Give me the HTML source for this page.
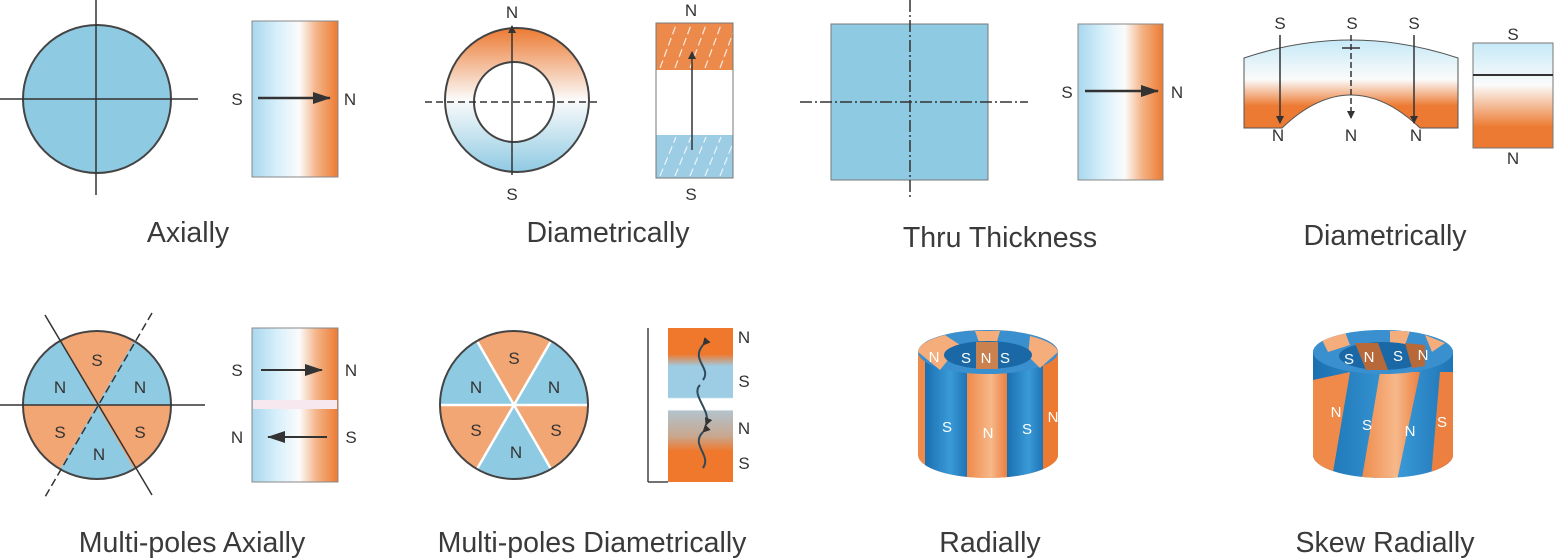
<!DOCTYPE html>
<html><head><meta charset="utf-8"><style>
html,body{margin:0;padding:0;background:#fff;}
svg{display:block;}
text{font-family:"Liberation Sans",sans-serif;fill:#333;}
.lb{font-size:28.5px;text-anchor:middle;fill:#3a3a3a;}
.p{font-size:17px;text-anchor:middle;}
.w{font-size:15px;text-anchor:middle;fill:#fff;}
</style></head><body>
<svg width="1554" height="559" viewBox="0 0 1554 559" xmlns="http://www.w3.org/2000/svg">
<defs>
<linearGradient id="hg" x1="0" x2="1" y1="0" y2="1" gradientTransform="rotate(0)">
<stop offset="0" stop-color="#a9d7ee"/><stop offset="0.3" stop-color="#d8f0fb"/><stop offset="0.55" stop-color="#fbfbfb"/><stop offset="0.75" stop-color="#f4b487"/><stop offset="1" stop-color="#ec7a32"/></linearGradient>
<linearGradient id="hg2" x1="0" x2="1" y1="0" y2="0">
<stop offset="0" stop-color="#a9d7ee"/><stop offset="0.3" stop-color="#d8f0fb"/><stop offset="0.55" stop-color="#fbfbfb"/><stop offset="0.75" stop-color="#f4b487"/><stop offset="1" stop-color="#ec7a32"/></linearGradient>
<linearGradient id="vg" x1="0" x2="0" y1="0" y2="1">
<stop offset="0" stop-color="#ec7a32"/><stop offset="0.5" stop-color="#fbfbfb"/><stop offset="1" stop-color="#8fcae3"/></linearGradient>
<linearGradient id="ag" x1="0" x2="0" y1="0" y2="1">
<stop offset="0" stop-color="#c6e9f7"/><stop offset="0.45" stop-color="#fbfbfb"/><stop offset="0.75" stop-color="#ec7a32"/><stop offset="1" stop-color="#ec7a32"/></linearGradient>
<linearGradient id="rg" x1="0" x2="0" y1="0" y2="1">
<stop offset="0" stop-color="#c6e9f7"/><stop offset="0.4" stop-color="#fbfbfb"/><stop offset="0.8" stop-color="#ec7a32"/><stop offset="1" stop-color="#ec7a32"/></linearGradient>
<linearGradient id="mg" x1="0" x2="0" y1="0" y2="1">
<stop offset="0" stop-color="#ef782d"/><stop offset="0.17" stop-color="#ef782d"/><stop offset="0.25" stop-color="#9ccde5"/><stop offset="0.45" stop-color="#9ccde5"/><stop offset="0.46" stop-color="#fff"/><stop offset="0.53" stop-color="#fff"/><stop offset="0.54" stop-color="#b3c3cc"/><stop offset="0.7" stop-color="#c8a890"/><stop offset="0.8" stop-color="#ef782d"/><stop offset="1" stop-color="#ef782d"/></linearGradient>
<marker id="ah" markerWidth="8" markerHeight="8" refX="7" refY="4" orient="auto" markerUnits="userSpaceOnUse" viewBox="0 0 8 8"><path d="M0,0 L8,4 L0,8 z" fill="#333"/></marker>
<marker id="ab" markerWidth="18" markerHeight="12" refX="17" refY="6" orient="auto" markerUnits="userSpaceOnUse"><path d="M0,0 L18,6 L0,12 z" fill="#333"/></marker>
<clipPath id="c1"><path d="M918,352 A70,22 0 0 1 1058,352 L1058,455 A70,23 0 0 1 918,455 Z"/></clipPath>
<clipPath id="c2"><path d="M1313,352 A70,22 0 0 1 1453,352 L1453,455 A70,23 0 0 1 1313,455 Z"/></clipPath>
<linearGradient id="bl" x1="0" x2="1"><stop offset="0" stop-color="#1a6fb0"/><stop offset="0.6" stop-color="#3a9ad8"/><stop offset="1" stop-color="#1f74b5"/></linearGradient>
<linearGradient id="or" x1="0" x2="1"><stop offset="0" stop-color="#ef8a4a"/><stop offset="0.6" stop-color="#f6b88a"/><stop offset="1" stop-color="#ec8040"/></linearGradient>
</defs>

<!-- Axially -->
<circle cx="97" cy="99" r="74" fill="#8fcae3" stroke="#444" stroke-width="2"/>
<line x1="96" y1="0" x2="96" y2="195" stroke="#333" stroke-width="1.5"/>
<line x1="0" y1="99" x2="198" y2="99" stroke="#333" stroke-width="1.5"/>
<rect x="252" y="21" width="86" height="156" fill="url(#hg2)" stroke="#888"/>
<line x1="258" y1="98" x2="330" y2="98" stroke="#333" stroke-width="2.5" marker-end="url(#ab)"/>
<text class="p" x="237" y="105">S</text><text class="p" x="350" y="105">N</text>
<text class="lb" x="188" y="242">Axially</text>

<!-- Diametrically ring -->
<circle cx="517" cy="100" r="72" fill="url(#vg)" stroke="#444" stroke-width="2"/>
<circle cx="514" cy="102" r="40" fill="#fff" stroke="#444" stroke-width="2"/>
<line x1="512" y1="175" x2="512" y2="26" stroke="#333" stroke-width="1.5" marker-end="url(#ah)"/>
<line x1="425" y1="102" x2="600" y2="102" stroke="#333" stroke-width="1.5" stroke-dasharray="7,4"/>
<text class="p" x="512" y="18">N</text><text class="p" x="512" y="200">S</text>
<rect x="656" y="23" width="77" height="47" fill="#ec8a4c"/>
<rect x="656" y="135" width="77" height="43" fill="#9ccde5"/>
<g stroke="#fff" stroke-width="1.2" stroke-dasharray="8,4" opacity="0.8">
<line x1="660" y1="68" x2="676" y2="25"/><line x1="675" y1="68" x2="691" y2="25"/><line x1="690" y1="68" x2="706" y2="25"/><line x1="705" y1="68" x2="721" y2="25"/><line x1="720" y1="68" x2="733" y2="33"/>
<line x1="660" y1="176" x2="676" y2="137"/><line x1="675" y1="176" x2="691" y2="137"/><line x1="690" y1="176" x2="706" y2="137"/><line x1="705" y1="176" x2="721" y2="137"/><line x1="720" y1="176" x2="733" y2="143"/></g>
<rect x="656" y="23" width="77" height="155" fill="none" stroke="#777"/>
<line x1="692" y1="150" x2="692" y2="52" stroke="#333" stroke-width="1.5" marker-end="url(#ah)"/>
<text class="p" x="691" y="16">N</text><text class="p" x="691" y="200">S</text>
<text class="lb" x="608" y="242">Diametrically</text>

<!-- Thru thickness -->
<rect x="831" y="24" width="157" height="156" fill="#8fcae3" stroke="#777"/>
<line x1="910" y1="0" x2="910" y2="200" stroke="#333" stroke-width="1.5" stroke-dasharray="12,3,2,3"/>
<line x1="800" y1="102" x2="1028" y2="102" stroke="#333" stroke-width="1.5" stroke-dasharray="12,3,2,3"/>
<rect x="1078" y="24" width="85" height="156" fill="url(#hg2)" stroke="#888"/>
<line x1="1085" y1="91" x2="1158" y2="91" stroke="#333" stroke-width="2.5" marker-end="url(#ab)"/>
<text class="p" x="1067" y="98">S</text><text class="p" x="1177" y="98">N</text>
<text class="lb" x="1000" y="247">Thru Thickness</text>

<!-- Diametrically arc -->
<path d="M1244,58 Q1351,22 1458,58 L1458,128 L1420,128 Q1351,62 1282,128 L1244,128 Z" fill="url(#ag)" stroke="#555"/>
<g stroke="#333" stroke-width="1.5"><line x1="1280" y1="35" x2="1280" y2="123" marker-end="url(#ah)"/><line x1="1351" y1="35" x2="1351" y2="118" stroke-dasharray="6,3" marker-end="url(#ah)"/><line x1="1414" y1="35" x2="1414" y2="123" marker-end="url(#ah)"/><line x1="1342" y1="48" x2="1360" y2="48"/></g>
<text class="p" x="1280" y="29">S</text><text class="p" x="1352" y="29">S</text><text class="p" x="1414" y="29">S</text>
<text class="p" x="1278" y="141">N</text><text class="p" x="1351" y="141">N</text><text class="p" x="1416" y="141">N</text>
<rect x="1473" y="43" width="80" height="105" fill="url(#rg)" stroke="#777"/>
<line x1="1473" y1="75" x2="1553" y2="75" stroke="#333" stroke-width="2"/>
<text class="p" x="1513" y="40">S</text><text class="p" x="1513" y="164">N</text>
<text class="lb" x="1385" y="245">Diametrically</text>

<!-- Multi-poles axially -->
<circle cx="97" cy="405" r="74" fill="#8fcae3"/>
<path d="M97,405 L60,341 A74,74 0 0 1 134,341 Z" fill="#f2a673"/>
<path d="M97,405 L171,405 A74,74 0 0 1 134,469 Z" fill="#f2a673"/>
<path d="M97,405 L60,469 A74,74 0 0 1 23,405 Z" fill="#f2a673"/>
<circle cx="97" cy="405" r="74" fill="none" stroke="#444" stroke-width="2"/>
<line x1="45" y1="315" x2="152" y2="495" stroke="#333" stroke-width="1.5"/>
<line x1="152" y1="313" x2="45" y2="497" stroke="#333" stroke-width="1.5" stroke-dasharray="8,4"/>
<line x1="0" y1="405" x2="205" y2="405" stroke="#333" stroke-width="1.5"/>
<text class="p" x="97" y="366">S</text><text class="p" x="60" y="393">N</text><text class="p" x="140" y="393">N</text><text class="p" x="60" y="438">S</text><text class="p" x="140" y="438">S</text><text class="p" x="99" y="460">N</text>
<rect x="252" y="328" width="86" height="154" fill="url(#hg2)" stroke="#888"/>
<rect x="253" y="400" width="84" height="9" fill="#f6e8ee"/>
<line x1="261" y1="370" x2="322" y2="370" stroke="#333" stroke-width="2" marker-end="url(#ab)"/>
<line x1="327" y1="437" x2="268" y2="437" stroke="#333" stroke-width="2" marker-end="url(#ab)"/>
<text class="p" x="237" y="376">S</text><text class="p" x="351" y="376">N</text>
<text class="p" x="237" y="443">N</text><text class="p" x="351" y="443">S</text>
<text class="lb" x="192" y="552">Multi-poles Axially</text>

<!-- Multi-poles diametrically -->
<circle cx="514" cy="405" r="74" fill="#8fcae3"/>
<path d="M514,405 L477,341 A74,74 0 0 1 551,341 Z" fill="#f2a673"/>
<path d="M514,405 L588,405 A74,74 0 0 1 551,469 Z" fill="#f2a673"/>
<path d="M514,405 L477,469 A74,74 0 0 1 440,405 Z" fill="#f2a673"/>
<g stroke="#fff" stroke-width="2.5"><line x1="477" y1="341" x2="551" y2="469"/><line x1="551" y1="341" x2="477" y2="469"/><line x1="440" y1="405" x2="588" y2="405"/></g>
<circle cx="514" cy="405" r="74" fill="none" stroke="#444" stroke-width="2"/>
<text class="p" x="514" y="364">S</text><text class="p" x="476" y="393">N</text><text class="p" x="554" y="393">N</text><text class="p" x="476" y="436">S</text><text class="p" x="556" y="436">S</text><text class="p" x="516" y="458">N</text>
<line x1="648" y1="328" x2="648" y2="482" stroke="#444" stroke-width="1.5"/>
<line x1="648" y1="482" x2="668" y2="482" stroke="#444" stroke-width="1.5"/>
<rect x="668" y="328" width="65" height="154" fill="url(#mg)"/>
<g fill="none" stroke="#2f4a5a" stroke-width="2">
<path d="M703,345 C690,360 712,368 703,380" marker-start="url(#ah)"/>
<path d="M700,385 C690,395 712,410 706,425" marker-end="url(#ah)"/>
<path d="M703,432 C690,445 712,455 703,468" marker-start="url(#ah)"/>
</g>
<text class="p" x="744" y="343">N</text><text class="p" x="744" y="387">S</text><text class="p" x="744" y="434">N</text><text class="p" x="744" y="469">S</text>
<text class="lb" x="592" y="552">Multi-poles Diametrically</text>

<!-- Radially -->
<g clip-path="url(#c1)">
<rect x="918" y="320" width="140" height="170" fill="#ef8a4a"/>
<rect x="925" y="320" width="42" height="170" fill="url(#bl)"/>
<rect x="967" y="320" width="40" height="170" fill="url(#or)"/>
<rect x="1007" y="320" width="36" height="170" fill="url(#bl)"/>
<rect x="1043" y="320" width="15" height="170" fill="#ec7a32"/>
<ellipse cx="988" cy="352" rx="70" ry="22" fill="#3a8fcf"/>
<path d="M918,352 A70,22 0 0 1 945,335 L960,345 L940,370 Z" fill="#f5ad7c"/>
<path d="M975,331 L1000,331 L996,345 L980,345 Z" fill="#f5ad7c"/>
<path d="M1030,336 A70,22 0 0 1 1058,352 L1040,368 L1028,356 Z" fill="#f5ad7c"/>
<ellipse cx="988" cy="355" rx="44" ry="14" fill="#1a69a6"/>
<path d="M976,342 L998,342 L998,369 L976,369 Z" fill="#c8814f"/>
</g>
<text class="w" x="934" y="362">N</text><text class="w" x="966" y="363">S</text><text class="w" x="986" y="363">N</text><text class="w" x="1005" y="363">S</text>
<text class="w" x="947" y="432">S</text><text class="w" x="988" y="438">N</text><text class="w" x="1027" y="434">S</text><text class="w" x="1053" y="422">N</text>
<text class="lb" x="990" y="552">Radially</text>

<!-- Skew radially -->
<g clip-path="url(#c2)">
<rect x="1313" y="320" width="140" height="170" fill="url(#bl)"/>
<path d="M1313,380 L1350,372 L1330,490 L1313,490 Z" fill="#ef8a4a"/>
<path d="M1380,372 L1420,372 L1395,490 L1360,490 Z" fill="url(#or)"/>
<path d="M1440,372 L1453,372 L1453,490 L1430,490 Z" fill="#ec8040"/>
<ellipse cx="1383" cy="352" rx="70" ry="22" fill="#3a8fcf"/>
<path d="M1322,340 L1345,332 L1350,345 L1328,352 Z" fill="#f5ad7c"/>
<path d="M1390,331 L1410,331 L1405,345 L1390,345 Z" fill="#f5ad7c"/>
<path d="M1425,335 L1445,343 L1432,352 Z" fill="#f5ad7c"/>
<ellipse cx="1383" cy="356" rx="44" ry="14" fill="#1a69a6"/>
<path d="M1355,343 L1378,343 L1388,370 L1366,370 Z" fill="#b8693a"/>
<path d="M1405,343 L1425,345 L1425,366 L1412,368 Z" fill="#b8693a"/>
</g>
<text class="w" x="1349" y="364">S</text><text class="w" x="1369" y="362">N</text><text class="w" x="1398" y="361">S</text><text class="w" x="1423" y="360">N</text>
<text class="w" x="1336" y="417">N</text><text class="w" x="1367" y="430">S</text><text class="w" x="1410" y="436">N</text><text class="w" x="1442" y="427">S</text>
<text class="lb" x="1385" y="552">Skew Radially</text>
</svg>
</body></html>
